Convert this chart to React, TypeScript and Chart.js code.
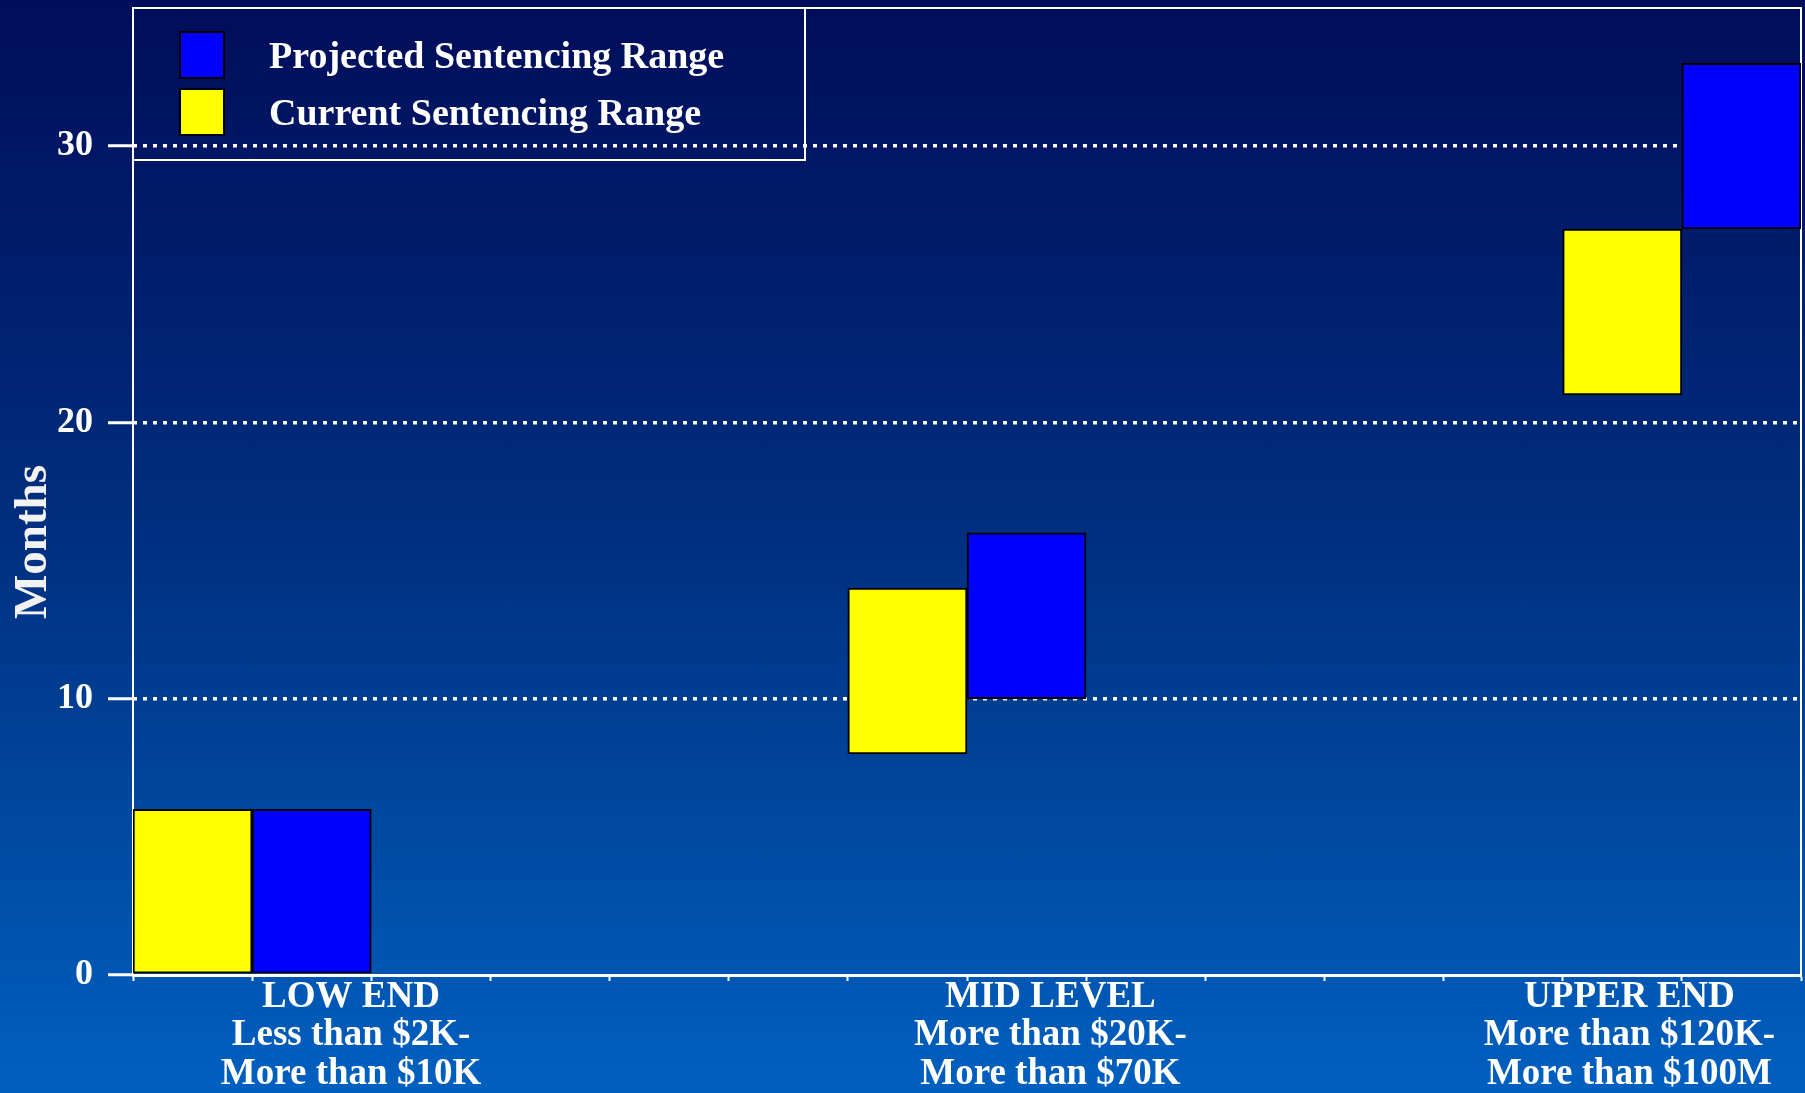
import React, { useEffect, useRef } from 'react';
import { Chart, registerables } from 'chart.js';

Chart.register(...registerables);

// ---------------- data ----------------
const categories: string[][] = [
  ['LOW END', 'Less than $2K-', 'More than $10K'],
  ['MID LEVEL', 'More than $20K-', 'More than $70K'],
  ['UPPER END', 'More than $120K-', 'More than $100M'],
];
const seriesNames = ['Projected Sentencing Range', 'Current Sentencing Range'];
const projectedRange: [number, number][] = [[0, 6], [10, 16], [27, 33]];
const currentRange: [number, number][] = [[0, 6], [8, 14], [21, 27]];
const yTickValues = [0, 10, 20, 30];
const yTitle = 'Months';
const yMax = 35;

// ---------------- layout ----------------
const W = 1805;
const H = 1093;
const SLOTS = 14; // x axis is divided into 14 equal slots (tick marks)
const groupSlot = [0, 6, 12]; // first slot occupied by each category's pair of bars
const labelCenter = [1.83, 7.7, 12.56]; // horizontal centre of each category label, in slot units
const FONT = '"Liberation Serif", "Times New Roman", serif';
const LEGEND = { width: 672, height: 152, swatchX: 47, swatchW: 44, swatchH: 46, rowCenters: [47, 104], textShift: 3, textX: 136, fontSize: 38 };
const TITLE = { x: 34, y: 542, fontSize: 47 };

const YELLOW = '#ffff00';
const BLUE = '#0000ff';

const framePlugin = {
  id: 'frameAndLegend',
  beforeDatasetsDraw(chart: any) {
    const { ctx, chartArea: a } = chart;
    ctx.save();
    ctx.setLineDash([]);
    // frame (top + right)
    ctx.strokeStyle = '#ffffff';
    ctx.lineWidth = 2;
    ctx.beginPath();
    ctx.moveTo(a.left, a.top);
    ctx.lineTo(a.right, a.top);
    ctx.lineTo(a.right, a.bottom);
    ctx.stroke();
    // y axis line
    ctx.beginPath();
    ctx.moveTo(a.left, a.top);
    ctx.lineTo(a.left, a.bottom);
    ctx.stroke();
    // legend box
    ctx.strokeRect(a.left, a.top, LEGEND.width, LEGEND.height);
    ctx.font = `bold ${LEGEND.fontSize}px ${FONT}`;
    ctx.textAlign = 'left';
    ctx.textBaseline = 'middle';
    seriesNames.forEach((name, i) => {
      const ds = chart.data.datasets.find((d: any) => d.label === name);
      const cy = a.top + LEGEND.rowCenters[i];
      const sx = a.left + LEGEND.swatchX;
      const sy = cy - LEGEND.swatchH / 2;
      ctx.fillStyle = ds ? ds.backgroundColor : '#fff';
      ctx.fillRect(sx, sy, LEGEND.swatchW, LEGEND.swatchH);
      ctx.strokeStyle = '#000000';
      ctx.lineWidth = 2;
      ctx.strokeRect(sx, sy, LEGEND.swatchW, LEGEND.swatchH);
      ctx.fillStyle = '#ffffff';
      ctx.fillText(name, a.left + LEGEND.textX, cy + LEGEND.textShift);
    });
    ctx.restore();
  },
  afterDraw(chart: any) {
    const { ctx } = chart;
    ctx.save();
    ctx.translate(TITLE.x, TITLE.y);
    ctx.rotate(-Math.PI / 2);
    ctx.font = `bold ${TITLE.fontSize}px ${FONT}`;
    ctx.fillStyle = '#f2f2f2';
    ctx.textAlign = 'center';
    ctx.textBaseline = 'middle';
    ctx.fillText(yTitle, 0, 0);
    ctx.restore();
  },
};

const zeroPad = (s: any) => {
  s.paddingTop = 0;
  s.paddingBottom = 0;
  s.paddingLeft = 0;
  s.paddingRight = 0;
};

export default function App() {
  const ref = useRef<HTMLCanvasElement | null>(null);

  useEffect(() => {
    document.body.style.margin = '0';
    if (!ref.current) return;

    const barStyle = {
      borderColor: '#000000',
      borderWidth: 2,
      borderSkipped: false,
      grouped: false,
      barPercentage: 1,
      categoryPercentage: 1,
      xAxisID: 'x',
      yAxisID: 'y',
    };

    const chart = new Chart(ref.current, {
      type: 'bar',
      data: {
        datasets: [
          {
            label: seriesNames[1],
            data: currentRange.map((r, i) => ({ x: groupSlot[i] + 0.5, y: r })),
            backgroundColor: YELLOW,
            ...barStyle,
          } as any,
          {
            label: seriesNames[0],
            data: projectedRange.map((r, i) => ({ x: groupSlot[i] + 1.5, y: r })),
            backgroundColor: BLUE,
            ...barStyle,
          } as any,
        ],
      },
      options: {
        animation: false,
        responsive: false,
        maintainAspectRatio: false,
        layout: { padding: { top: 8, right: 4, bottom: 0, left: 0 } },
        plugins: { legend: { display: false }, tooltip: { enabled: false } },
        scales: {
          x: {
            type: 'linear',
            position: 'bottom',
            weight: 0,
            min: 0,
            max: SLOTS,
            offset: false,
            ticks: { display: false, stepSize: 1 },
            grid: {
              offset: false,
              drawOnChartArea: false,
              drawTicks: true,
              tickLength: 6,
              tickWidth: 2,
              tickColor: '#ffffff',
              color: '#ffffff',
            },
            border: { display: true, color: '#ffffff', width: 3 },
            afterFit: (s: any) => {
              s.height = 3;
              zeroPad(s);
            },
          },
          x2: {
            type: 'linear',
            position: 'bottom',
            weight: 1,
            min: 0,
            max: SLOTS,
            offset: false,
            grid: { display: false, drawTicks: false, offset: false },
            border: { display: false },
            afterBuildTicks: (s: any) => {
              s.ticks = labelCenter.map((v) => ({ value: v }));
            },
            ticks: {
              autoSkip: false,
              maxRotation: 0,
              minRotation: 0,
              padding: 0,
              color: '#ffffff',
              font: { family: FONT, size: 37, weight: 'bold', lineHeight: 1.04 },
              callback: (_v: any, i: number) => categories[i],
            },
            afterFit: (s: any) => {
              s.height = 115;
              zeroPad(s);
            },
          },
          y: {
            type: 'linear',
            min: 0,
            max: yMax,
            afterBuildTicks: (s: any) => {
              s.ticks = yTickValues.map((v) => ({ value: v }));
            },
            ticks: {
              color: '#ffffff',
              padding: 15,
              font: { family: FONT, size: 36, weight: 'bold', lineHeight: 1 },
            },
            grid: {
              drawOnChartArea: true,
              color: (ctx: any) => (ctx.tick && ctx.tick.value === 0 ? 'rgba(0,0,0,0)' : '#ffffff'),
              lineWidth: 3.5,
              tickLength: 25,
              tickWidth: 3,
              tickColor: '#ffffff',
              tickBorderDash: [0, 0],
            },
            border: { display: false, dash: [4, 6] },
            afterFit: (s: any) => {
              s.width = 133;
              zeroPad(s);
            },
          },
        },
      } as any,
      plugins: [framePlugin],
    });

    return () => chart.destroy();
  }, []);

  return (
    <div
      style={{
        position: 'fixed',
        left: 0,
        top: 0,
        width: W,
        height: H,
        background: 'linear-gradient(to bottom, #000d5a 0%, #003080 50%, #0060c0 100%)',
      }}
    >
      <canvas ref={ref} width={W} height={H} style={{ display: 'block' }} />
    </div>
  );
}
